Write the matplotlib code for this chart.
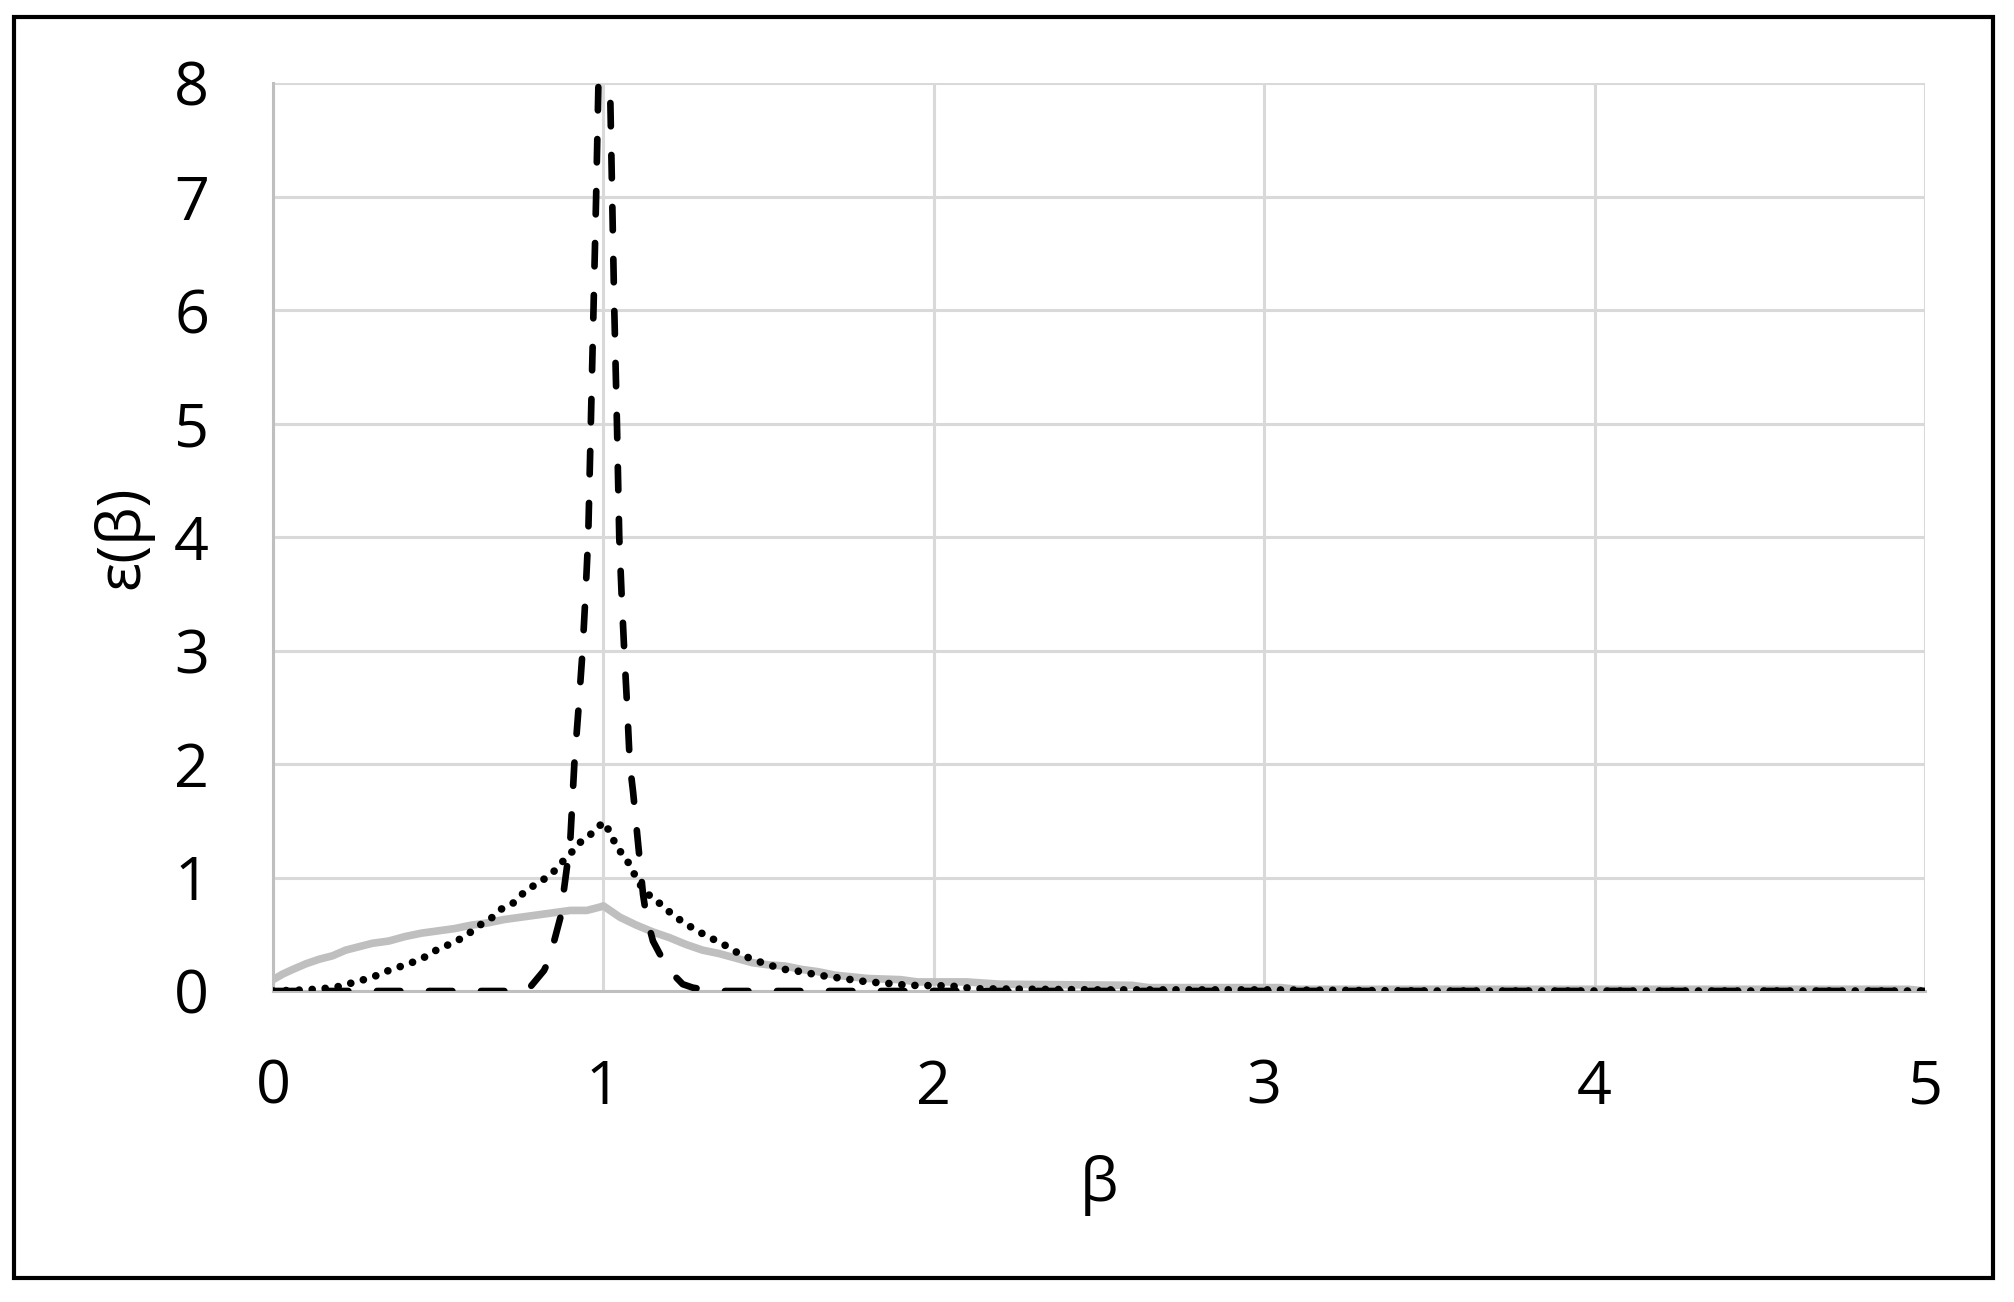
import numpy as np
import matplotlib.pyplot as plt
from matplotlib.patches import Rectangle

plt.rcParams['font.family'] = ['Open Sans', 'DejaVu Sans']

# gray solid series
beta_gray = [0.00, 0.03, 0.06, 0.10, 0.14, 0.18, 0.22, 0.26, 0.30, 0.35, 0.40, 0.45,
             0.50, 0.55, 0.60, 0.65, 0.70, 0.75, 0.80, 0.85, 0.90, 0.95, 0.99, 1.00,
             1.05, 1.10, 1.15, 1.20, 1.25, 1.30, 1.35, 1.40, 1.45, 1.50, 1.55, 1.60,
             1.65, 1.70, 1.80, 1.90, 1.95, 2.10, 2.20, 2.60, 2.65, 3.05, 3.10, 4.95, 5.00]
eps_gray = [0.10, 0.15, 0.19, 0.24, 0.28, 0.31, 0.36, 0.39, 0.42, 0.44, 0.48, 0.51,
            0.53, 0.55, 0.58, 0.60, 0.63, 0.65, 0.67, 0.69, 0.71, 0.71, 0.74, 0.75,
            0.65, 0.58, 0.52, 0.47, 0.41, 0.36, 0.33, 0.29, 0.25, 0.23, 0.22, 0.19,
            0.17, 0.14, 0.11, 0.10, 0.08, 0.08, 0.06, 0.05, 0.03, 0.03, 0.015, 0.015, 0.0]

# dotted series
beta_dot = [0.00, 0.10, 0.15, 0.20, 0.25, 0.30, 0.34, 0.38, 0.42, 0.46, 0.50, 0.55,
            0.59, 0.62, 0.66, 0.69, 0.73, 0.76, 0.80, 0.84, 0.87, 0.90, 0.93, 0.97,
            1.00, 1.02, 1.04, 1.07, 1.09, 1.11, 1.14, 1.18, 1.21, 1.25, 1.29, 1.33,
            1.37, 1.41, 1.45, 1.50, 1.55, 1.60, 1.65, 1.70, 1.75, 1.80, 1.87, 1.92,
            2.05, 2.12, 2.50, 3.00, 3.50, 5.00]
eps_dot = [0.00, 0.01, 0.02, 0.04, 0.08, 0.12, 0.17, 0.21, 0.25, 0.30, 0.37, 0.43,
           0.50, 0.57, 0.64, 0.72, 0.78, 0.87, 0.95, 1.02, 1.12, 1.21, 1.31, 1.40,
           1.49, 1.40, 1.27, 1.16, 1.05, 0.94, 0.84, 0.75, 0.67, 0.59, 0.52, 0.46,
           0.40, 0.33, 0.28, 0.23, 0.19, 0.17, 0.14, 0.12, 0.10, 0.08, 0.065, 0.05,
           0.045, 0.02, 0.01, 0.01, 0.0, 0.0]

# dashed series (peak runs off the top of the axis)
beta_dash = [0.00, 0.76, 0.78, 0.80, 0.82, 0.84, 0.85, 0.86, 0.87, 0.88, 0.89, 0.90,
             0.912, 0.925, 0.937, 0.946, 0.954, 0.962, 0.970, 0.978, 0.985, 1.00,
             1.02, 1.033, 1.041, 1.048, 1.055, 1.063, 1.072, 1.08, 1.09, 1.10, 1.11,
             1.12, 1.13, 1.15, 1.17, 1.19, 1.22, 1.24, 1.27, 1.31, 1.35, 5.00]
eps_dash = [0.0, 0.0, 0.04, 0.11, 0.18, 0.30, 0.43, 0.54, 0.65, 0.88, 1.10, 1.34,
            2.0, 2.5, 3.0, 3.5, 4.0, 5.0, 6.0, 7.0, 8.0, 10.4,
            8.0, 6.0, 5.0, 4.0, 3.5, 3.0, 2.5, 2.0, 1.75, 1.45, 1.15,
            0.85, 0.66, 0.44, 0.33, 0.235, 0.12, 0.06, 0.03, 0.01, 0.0, 0.0]

xticks = [0, 1, 2, 3, 4, 5]
yticks = [0, 1, 2, 3, 4, 5, 6, 7, 8]

fig = plt.figure(figsize=(20.15, 13.02), dpi=100)
ax = fig.add_axes([273/2015, 1 - 991/1302, 1652/2015, 908/1302])

ax.plot(beta_gray, eps_gray, color='#bfbfbf', lw=5.5, solid_joinstyle='round', zorder=3)
ax.plot(beta_dot, eps_dot, color='black', lw=5.5, dashes=(0.01, 1.7),
        dash_capstyle='round', zorder=4)
ax.plot(beta_dash, eps_dash, color='black', lw=4.8, dashes=(3.5, 4.3),
        dash_capstyle='round', zorder=5)

ax.set_xlim(0, 5)
ax.set_ylim(0, 8)
ax.set_xticks(xticks)
ax.set_yticks(yticks)
ax.grid(True, color='#d9d9d9', lw=2.2)
ax.set_axisbelow(True)
for s in ['top', 'right']:
    ax.spines[s].set_visible(False)
for s in ['left', 'bottom']:
    ax.spines[s].set_color('#bfbfbf')
    ax.spines[s].set_linewidth(2.2)
ax.tick_params(length=0, labelsize=44)
ax.tick_params(axis='y', pad=46)
ax.tick_params(axis='x', pad=48)

ax.set_xlabel('β', fontsize=44, va='center')
ax.xaxis.set_label_coords(0.5, -0.2137)
ax.set_ylabel('ε(β)', fontsize=44, va='center')
ax.yaxis.set_label_coords(-0.0908, 0.5)

# outer frame
fig.patches.append(Rectangle((14/2015, 1 - 1278/1302), 1979/2015, 1261/1302,
                             transform=fig.transFigure, fill=False,
                             edgecolor='black', lw=3))

plt.savefig('out.png', dpi=100)
